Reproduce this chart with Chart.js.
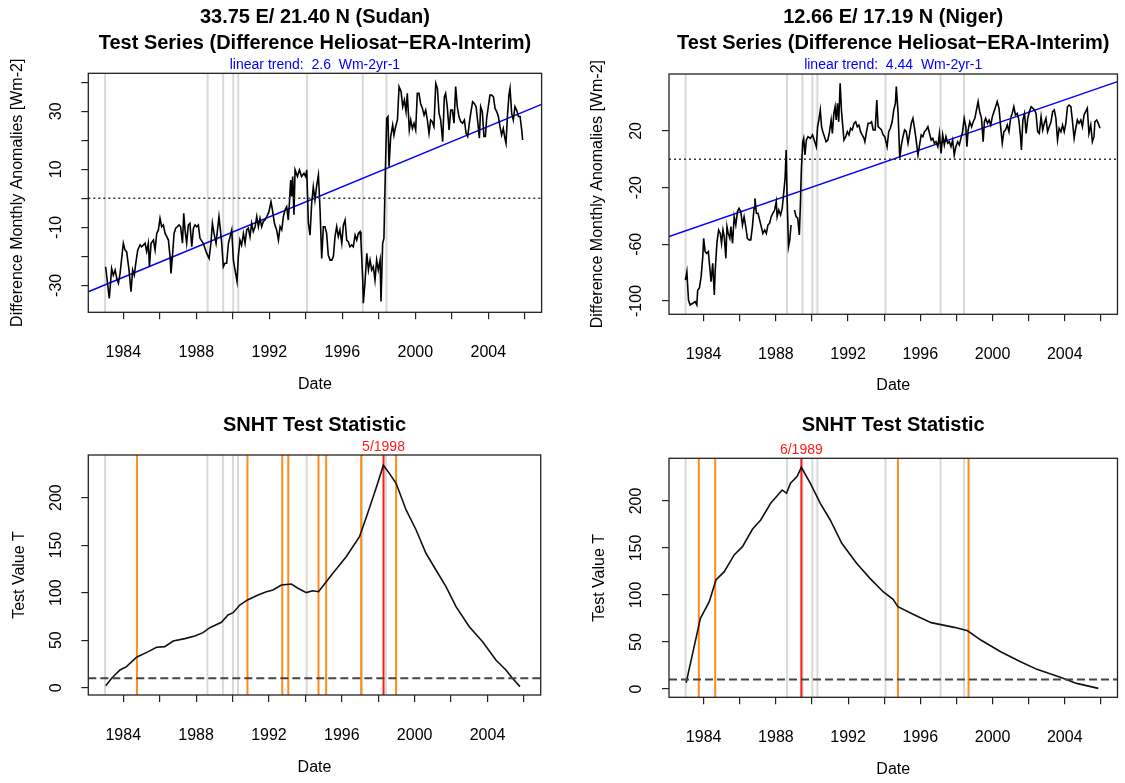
<!DOCTYPE html>
<html>
<head>
<meta charset="utf-8">
<script src="https://cdn.jsdelivr.net/npm/chart.js@4.4.0/dist/chart.umd.min.js"></script>
<style>
  body { margin: 0; background: #fff; }
  #wrap { position: relative; width: 1125px; height: 783px; }
  canvas { position: absolute; }
</style>
</head>
<body>
<div id="wrap">
  <canvas id="tl" width="562" height="400" style="left:0;top:0"></canvas>
  <canvas id="tr" width="563" height="400" style="left:562px;top:0"></canvas>
  <canvas id="bl" width="562" height="383" style="left:0;top:400px"></canvas>
  <canvas id="br" width="563" height="383" style="left:562px;top:400px"></canvas>
</div>
<script>
// ---- axes ----
const xMin = 1982.08, xMax = 2006.92;
const xTicks = [1984, 1986, 1988, 1990, 1992, 1994, 1996, 1998, 2000, 2002, 2004, 2006];
const xTickLabels = [1984, 1988, 1992, 1996, 2000, 2004];

const sudanYRange = [-39.3, 43.1];
const sudanYTicks = [-30, -20, -10, 0, 10, 20, 30, 40];
const sudanYLabels = [-30, -10, 10, 30];
const nigerYRange = [-109.4, 60.2];
const nigerYTicks = [-100, -80, -60, -40, -20, 0, 20, 40];
const nigerYLabels = [-100, -60, -20, 20];
const snhtSudanYRange = [-7.7, 244.8];
const snhtNigerYRange = [-8.8, 245.4];
const snhtYTicks = [0, 50, 100, 150, 200];
const snhtYLabels = [0, 50, 100, 150, 200];

// ---- break markers ----
const grayYears = [1983.0, 1988.62, 1989.47, 1990.02, 1990.3, 1994.07, 1997.12, 1998.42];
const orangeSudan = [1984.75, 1990.82, 1992.73, 1993.06, 1994.72, 1995.14, 1997.06, 1998.98];
const orangeNiger = [1983.73, 1984.64, 1994.76, 1998.67];
const breakSudan = 1998.29, breakSudanLabel = '5/1998';
const breakNiger = 1989.41, breakNigerLabel = '6/1989';
const snhtLimit = 10;

// trend line values at xMin / xMax
const trendSudan = [-32.2, 32.4];
const trendNiger = [-54.6, 54.8];

// ---- test series (Sudan) ----
const sudanYears = [1983.03,1983.23,1983.36,1983.45,1983.55,1983.64,1983.73,1983.82,1984.00,1984.09,1984.18,1984.31,1984.42,1984.51,1984.60,1984.68,1984.79,1984.92,1985.01,1985.10,1985.19,1985.28,1985.37,1985.43,1985.52,1985.65,1985.74,1985.83,1985.92,1986.01,1986.10,1986.19,1986.29,1986.38,1986.47,1986.56,1986.61,1986.69,1986.78,1986.87,1986.96,1987.05,1987.14,1987.24,1987.31,1987.38,1987.47,1987.56,1987.65,1987.75,1987.84,1987.93,1988.02,1988.11,1988.20,1988.38,1988.57,1988.70,1988.80,1988.88,1988.97,1989.08,1989.17,1989.24,1989.32,1989.39,1989.48,1989.57,1989.66,1989.76,1989.85,1989.94,1990.03,1990.12,1990.23,1990.30,1990.39,1990.48,1990.58,1990.67,1990.76,1990.85,1990.94,1991.03,1991.12,1991.22,1991.31,1991.40,1991.49,1991.58,1991.67,1991.76,1991.86,1991.98,1992.09,1992.17,1992.28,1992.40,1992.50,1992.59,1992.68,1992.77,1992.86,1992.95,1993.04,1993.10,1993.17,1993.22,1993.28,1993.35,1993.41,1993.54,1993.65,1993.77,1993.90,1993.99,1994.05,1994.14,1994.23,1994.32,1994.41,1994.50,1994.60,1994.69,1994.78,1994.87,1994.96,1995.05,1995.14,1995.23,1995.33,1995.42,1995.51,1995.60,1995.69,1995.78,1995.87,1995.97,1996.06,1996.15,1996.24,1996.33,1996.42,1996.51,1996.60,1996.70,1996.79,1996.88,1996.97,1997.02,1997.12,1997.15,1997.24,1997.34,1997.43,1997.52,1997.61,1997.70,1997.79,1997.88,1997.97,1998.07,1998.12,1998.21,1998.28,1998.36,1998.43,1998.50,1998.56,1998.65,1998.76,1998.83,1998.92,1999.02,1999.11,1999.22,1999.31,1999.40,1999.49,1999.56,1999.67,1999.75,1999.84,1999.93,2000.02,2000.11,2000.20,2000.29,2000.39,2000.48,2000.57,2000.66,2000.75,2000.84,2000.93,2001.02,2001.12,2001.21,2001.30,2001.39,2001.50,2001.59,2001.66,2001.75,2001.85,2001.94,2002.03,2002.12,2002.21,2002.30,2002.39,2002.49,2002.59,2002.69,2002.78,2002.87,2002.96,2003.05,2003.14,2003.23,2003.33,2003.42,2003.51,2003.58,2003.67,2003.76,2003.84,2003.91,2004.00,2004.09,2004.18,2004.28,2004.37,2004.46,2004.55,2004.64,2004.73,2004.82,2004.91,2004.97,2005.04,2005.13,2005.19,2005.28,2005.37,2005.46,2005.55,2005.65,2005.74,2005.83,2005.88];
const sudanValues = [-23.6,-34.5,-24.2,-26.5,-24.7,-27.6,-29.3,-25.9,-15.5,-17.8,-18.4,-24.7,-32.2,-24.7,-26.5,-22.4,-17.8,-16.1,-16.7,-16.1,-15.5,-18.4,-15.5,-23.6,-15.5,-14.4,-17.8,-12.1,-10.9,-6.9,-9.8,-9.2,-12.1,-13.2,-14.4,-20.1,-25.9,-20.1,-12.1,-10.3,-9.8,-9.2,-9.8,-15.5,-5.2,-10.9,-15.5,-9.2,-8.6,-16.7,-10.3,-9.2,-9.8,-9.2,-13.8,-15.5,-19.0,-20.7,-15.5,-8.6,-12.1,-15.5,-10.3,-6.3,-10.9,-15.5,-23.6,-22.4,-22.4,-15.5,-13.2,-10.9,-21.3,-24.7,-28.7,-20.1,-14.4,-16.1,-12.1,-15.5,-10.9,-10.3,-13.2,-8.6,-11.5,-9.8,-6.3,-9.8,-6.9,-9.8,-8.0,-7.5,-6.3,-4.6,-1.2,-4.0,-8.6,-10.9,-14.4,-9.8,-10.9,-6.3,-4.0,-2.9,-7.5,-1.7,6.3,0.6,7.5,-5.7,9.8,7.5,9.8,7.5,8.6,7.5,9.8,-8.6,-12.7,-1.7,4.0,-0.6,4.6,8.0,-4.0,-20.7,-9.8,-9.8,-12.1,-19.6,-21.3,-21.3,-20.1,-13.2,-9.8,-13.2,-10.9,-15.5,-9.2,-7.5,-14.4,-15.0,-16.7,-16.1,-16.7,-12.7,-14.4,-12.1,-11.5,-14.4,-28.2,-36.2,-29.3,-19.0,-24.7,-21.3,-24.7,-23.6,-28.2,-21.3,-24.7,-21.3,-35.6,-15.5,-13.8,9.8,27.6,28.2,10.9,21.3,25.3,21.8,24.7,27.0,38.5,36.8,31.6,33.9,29.9,36.2,23.6,27.0,24.1,25.9,23.6,36.2,36.2,32.7,31.0,28.7,30.4,27.0,22.4,27.0,26.4,24.7,39.6,37.9,29.3,27.0,19.5,35.0,36.2,31.6,23.6,30.4,30.4,25.9,38.5,31.6,28.2,26.4,25.9,27.0,22.4,21.3,25.9,29.9,33.3,32.7,31.6,26.4,20.7,31.6,29.9,21.3,21.3,27.6,31.6,35.6,35.6,35.0,31.0,29.9,28.2,24.7,21.8,24.1,20.7,19.0,27.6,35.6,37.9,29.3,27.0,31.6,30.4,28.2,28.2,23.6,20.1];

// ---- test series (Niger), null = missing month ----
const nigerYears = [1982.99,1983.07,1983.16,1983.25,1983.40,1983.53,1983.62,1983.67,1983.76,1983.86,1983.95,1984.00,1984.08,1984.17,1984.26,1984.35,1984.41,1984.50,1984.59,1984.64,1984.74,1984.83,1984.92,1984.99,1985.07,1985.14,1985.23,1985.29,1985.36,1985.45,1985.51,1985.60,1985.69,1985.78,1985.87,1985.96,1986.06,1986.15,1986.24,1986.33,1986.42,1986.51,1986.61,1986.70,1986.79,1986.84,1986.92,1987.01,1987.10,1987.19,1987.28,1987.38,1987.47,1987.56,1987.65,1987.74,1987.83,1987.93,1988.02,1988.07,1988.16,1988.26,1988.35,1988.44,1988.51,1988.57,1988.62,1988.70,1988.77,1988.84,1988.93,1989.03,1989.12,1989.21,1989.30,1989.36,1989.41,1989.49,1989.54,1989.61,1989.69,1989.78,1989.91,1990.03,1990.12,1990.24,1990.31,1990.38,1990.46,1990.53,1990.60,1990.69,1990.78,1990.88,1990.97,1991.06,1991.13,1991.21,1991.28,1991.34,1991.41,1991.48,1991.56,1991.63,1991.70,1991.77,1991.87,1991.96,1992.05,1992.14,1992.23,1992.33,1992.42,1992.51,1992.60,1992.69,1992.78,1992.88,1992.93,1993.02,1993.11,1993.21,1993.30,1993.39,1993.50,1993.59,1993.66,1993.76,1993.85,1993.94,1994.03,1994.16,1994.25,1994.34,1994.44,1994.53,1994.62,1994.67,1994.77,1994.86,1994.95,1995.04,1995.13,1995.22,1995.32,1995.41,1995.50,1995.59,1995.68,1995.77,1995.87,1995.96,1996.05,1996.14,1996.23,1996.32,1996.42,1996.51,1996.60,1996.69,1996.78,1996.87,1996.97,1997.06,1997.15,1997.24,1997.33,1997.42,1997.52,1997.61,1997.70,1997.79,1997.88,1997.97,1998.07,1998.16,1998.25,1998.34,1998.43,1998.52,1998.58,1998.65,1998.74,1998.84,1998.93,1999.02,1999.11,1999.20,1999.29,1999.39,1999.48,1999.55,1999.62,1999.72,1999.81,1999.90,1999.99,2000.08,2000.17,2000.26,2000.36,2000.45,2000.54,2000.63,2000.72,2000.82,2000.91,2001.00,2001.09,2001.18,2001.27,2001.37,2001.46,2001.55,2001.60,2001.68,2001.77,2001.86,2001.95,2002.04,2002.14,2002.23,2002.32,2002.41,2002.50,2002.59,2002.69,2002.78,2002.87,2002.96,2003.05,2003.14,2003.24,2003.33,2003.42,2003.51,2003.60,2003.69,2003.79,2003.88,2003.97,2004.06,2004.15,2004.24,2004.34,2004.43,2004.52,2004.61,2004.70,2004.79,2004.89,2004.98,2005.07,2005.16,2005.25,2005.34,2005.44,2005.53,2005.62,2005.67,2005.77,2005.86,2005.95];
const nigerValues = [-85.2,-79.3,-99.3,-102.8,-101.6,-100.5,-102.8,-92.3,-91.1,-82.9,-68.7,-55.8,-65.2,-66.4,-65.2,-78.1,-86.4,-73.4,-95.8,-78.1,-58.1,-49.9,-52.3,-59.3,-49.9,-54.6,-69.9,-47.5,-52.3,-55.8,-47.5,-59.3,-40.5,-46.4,-37.0,-34.6,-37.0,-46.4,-40.5,-47.5,-55.8,-56.9,-56.9,-47.5,-34.6,-27.6,-38.1,-38.1,-42.8,-47.5,-52.3,-49.9,-52.3,-46.4,-45.2,-40.5,-38.1,-35.8,-29.9,-40.5,-35.8,-39.3,-34.6,-22.9,-13.4,6.6,-26.4,-61.7,-56.9,-46.4,null,-35.8,-40.5,-41.6,-53.4,-31.1,-7.6,12.4,14.8,3.0,13.6,16.0,14.8,17.2,13.6,8.9,23.0,27.7,34.8,23.0,19.5,16.0,12.4,13.6,19.5,27.7,18.3,32.4,37.1,27.7,39.5,26.5,53.6,34.8,24.2,13.6,16.0,19.5,17.2,21.9,20.7,25.4,26.5,23.0,24.2,19.5,17.2,14.8,12.4,19.5,25.4,25.4,26.5,20.7,20.7,41.9,23.0,21.9,20.7,17.2,16.0,8.9,19.5,21.9,26.5,34.8,39.5,51.3,32.4,0.7,10.1,16.0,20.7,19.5,11.3,18.3,25.4,28.9,21.9,13.6,3.0,10.1,17.2,16.0,19.5,20.7,23.0,18.3,13.6,14.8,11.3,12.4,8.9,18.3,4.2,17.2,10.1,16.0,11.3,12.4,8.9,13.6,3.0,8.9,12.4,10.1,14.8,19.5,28.9,23.0,8.9,20.7,26.5,23.0,26.5,28.9,34.8,40.7,33.6,28.9,12.4,26.5,28.9,25.4,27.7,24.2,30.1,33.6,37.1,40.7,36.0,23.0,11.3,19.5,20.7,24.2,19.5,28.9,32.4,37.1,31.3,32.4,27.7,16.0,6.6,27.7,32.4,18.3,28.9,33.6,37.1,36.0,34.8,32.4,19.5,18.3,30.1,20.7,25.4,28.9,19.5,23.0,26.5,33.6,34.8,28.9,13.6,21.9,19.5,24.2,19.5,25.4,37.1,38.3,37.1,26.5,14.8,21.9,27.7,25.4,27.7,23.0,31.3,33.6,36.0,18.3,24.2,12.4,16.0,26.5,27.7,25.4,21.9];

// ---- SNHT test statistic ----
const snhtSudanYears = [1983.04,1983.36,1983.82,1984.18,1984.73,1985.37,1985.83,1986.28,1986.74,1987.38,1987.93,1988.38,1988.75,1989.39,1989.75,1990.03,1990.40,1990.82,1991.40,1991.86,1992.22,1992.68,1993.23,1993.59,1994.05,1994.40,1994.72,1995.05,1995.51,1996.24,1996.97,1997.42,1997.88,1998.28,1998.61,1998.98,1999.53,2000.08,2000.62,2001.17,2001.72,2002.27,2003.00,2003.73,2004.46,2005.01,2005.37,2005.78];
const snhtSudanValues = [2.1,9.9,18.6,22.1,32.0,37.9,42.5,43.2,49.1,51.6,54.4,57.9,63.1,68.8,76.5,78.9,87.0,92.3,97.5,101.0,102.8,108.0,109.1,104.6,100.0,102.0,101.0,109.1,120.3,137.8,158.9,183.5,209.8,234.0,225.5,215.0,187.0,165.9,141.4,123.8,106.3,85.2,64.2,48.4,29.1,18.6,9.9,1.1];
const snhtNigerYears = [1983.03,1983.39,1983.82,1984.31,1984.68,1985.14,1985.69,1986.15,1986.70,1987.16,1987.71,1988.35,1988.59,1988.81,1989.17,1989.41,1989.91,1990.46,1991.01,1991.65,1992.47,1993.21,1993.94,1994.49,1994.76,1995.68,1996.60,1997.88,1998.62,1999.35,2000.45,2001.55,2002.46,2003.75,2004.66,2005.86];
const snhtNigerValues = [6.7,38.0,75.2,92.9,116.0,124.8,142.6,151.4,169.9,179.8,197.5,211.7,208.2,218.8,225.9,235.8,218.8,197.5,179.8,155.0,133.7,117.7,103.5,95.4,87.6,78.7,70.6,65.6,62.0,52.1,39.7,29.1,20.9,12.4,6.0,0.7];

// ---- helpers ----
const FONT = '"Liberation Sans", Arial, Helvetica, sans-serif';

function pairs(xs, ys) {
  return xs.map((x, i) => ({ x: x, y: ys[i] }));
}

function vlines(years, range) {
  const pts = [];
  years.forEach(g => {
    pts.push({ x: g, y: range[0] }, { x: g, y: range[1] }, { x: g, y: null });
  });
  return pts;
}

function hline(v) {
  return [{ x: xMin, y: v }, { x: xMax, y: v }];
}

function lineSet(data, color, width, order, dash) {
  return {
    data: data, borderColor: color, borderWidth: width, order: order,
    borderDash: dash || [], pointRadius: 0, tension: 0, spanGaps: false, fill: false
  };
}

const tickGrid = { drawOnChartArea: false, drawTicks: true, tickLength: 7, color: '#222', lineWidth: 1.2 };

function xScale() {
  return {
    type: 'linear', min: xMin, max: xMax, bounds: 'data',
    afterBuildTicks: s => { s.ticks = xTicks.map(v => ({ value: v })); },
    afterFit: s => { s.height = 60; },
    grid: tickGrid,
    border: { display: false },
    ticks: {
      autoSkip: false, minRotation: 0, maxRotation: 0, padding: 24, color: '#000',
      font: { family: FONT, size: 16 },
      callback: v => xTickLabels.includes(v) ? String(v) : ''
    }
  };
}

function yScale(range, ticks, labels, pad) {
  return {
    type: 'linear', min: range[0], max: range[1], bounds: 'data',
    afterBuildTicks: s => { s.ticks = ticks.map(v => ({ value: v })); },
    afterFit: s => { s.width = 50; },
    grid: tickGrid,
    border: { display: false },
    ticks: {
      minRotation: 90, maxRotation: 90, crossAlign: 'center', padding: pad, color: '#000',
      font: { family: FONT, size: 16 },
      callback: v => labels.includes(v) ? String(v) : ''
    }
  };
}

// box, titles and axis titles, R style
const rFrame = {
  id: 'rFrame',
  afterDraw(chart, args, opts) {
    const ctx = chart.ctx;
    const a = chart.chartArea;
    const cx = (a.left + a.right) / 2, cy = (a.top + a.bottom) / 2;
    ctx.save();
    ctx.strokeStyle = '#222';
    ctx.lineWidth = 1.3;
    ctx.strokeRect(a.left, a.top, a.right - a.left, a.bottom - a.top);
    ctx.textAlign = 'center';
    ctx.textBaseline = 'middle';
    (opts.titles || []).forEach(t => {
      ctx.font = t.font;
      ctx.fillStyle = t.color || '#000';
      ctx.fillText(t.text, cx, a.top + t.dy);
    });
    ctx.fillStyle = '#000';
    ctx.font = '16px ' + FONT;
    ctx.fillText(opts.xTitle, cx, a.bottom + opts.xTitleDy);
    ctx.save();
    ctx.translate(a.left + opts.yTitleDx, cy);
    ctx.rotate(-Math.PI / 2);
    ctx.fillText(opts.yTitle, 0, 0);
    ctx.restore();
    if (opts.marker) {
      const mx = chart.scales.x.getPixelForValue(opts.marker.value);
      ctx.fillStyle = '#ff1a1a';
      ctx.font = '14px ' + FONT;
      ctx.fillText(opts.marker.text, mx, a.top + opts.marker.dy);
    }
    ctx.restore();
  }
};

function makeChart(id, datasets, yOpts, padding, frame) {
  return new Chart(document.getElementById(id), {
    type: 'line',
    data: { datasets: datasets },
    options: {
      responsive: false, animation: false, devicePixelRatio: 1, events: [],
      layout: { padding: padding },
      scales: { x: xScale(), y: yOpts },
      plugins: { legend: { display: false }, tooltip: { enabled: false }, rFrame: frame }
    },
    plugins: [rFrame]
  });
}

const GRAY = '#d9d9d9', ORANGE = '#ff8c1a', RED = '#ff1a1a';
const TITLE_FONT = 'bold 20px ' + FONT;
const SUB_FONT = '14px ' + FONT;

// top left: Sudan test series
makeChart('tl', [
  lineSet(pairs(sudanYears, sudanValues), '#000', 1.6, 1),
  lineSet(pairs([xMin, xMax], trendSudan), '#0000ff', 1.5, 2),
  lineSet(hline(0), '#333', 1.5, 0, [2, 3]),
  lineSet(vlines(grayYears, sudanYRange), GRAY, 2, 5)
], yScale(sudanYRange, sudanYTicks, sudanYLabels, 12.7),
  { left: 38.3, right: 20.4, top: 73.3, bottom: 27.7 },
  {
    titles: [
      { text: '33.75 E/ 21.40 N (Sudan)', dy: -56.3, font: TITLE_FONT },
      { text: 'Test Series (Difference Heliosat\u2212ERA-Interim)', dy: -30.3, font: TITLE_FONT },
      { text: 'linear trend:  2.6  Wm-2yr-1', dy: -8.3, font: SUB_FONT, color: '#0000ff' }
    ],
    xTitle: 'Date', xTitleDy: 72.7,
    yTitle: 'Difference Monthly Anomalies [Wm-2]', yTitleDx: -70.3
  });

// top right: Niger test series
makeChart('tr', [
  lineSet(pairs(nigerYears, nigerValues), '#000', 1.6, 1),
  lineSet(pairs([xMin, xMax], trendNiger), '#0000ff', 1.5, 2),
  lineSet(hline(0), '#333', 1.5, 0, [2, 3]),
  lineSet(vlines(grayYears, nigerYRange), GRAY, 2, 5)
], yScale(nigerYRange, nigerYTicks, nigerYLabels, 9),
  { left: 57, right: 4, top: 74, bottom: 25.7 },
  {
    titles: [
      { text: '12.66 E/ 17.19 N (Niger)', dy: -57, font: TITLE_FONT },
      { text: 'Test Series (Difference Heliosat\u2212ERA-Interim)', dy: -31, font: TITLE_FONT },
      { text: 'linear trend:  4.44  Wm-2yr-1', dy: -9, font: SUB_FONT, color: '#0000ff' }
    ],
    xTitle: 'Date', xTitleDy: 71,
    yTitle: 'Difference Monthly Anomalies [Wm-2]', yTitleDx: -71
  });

// bottom left: SNHT Sudan
makeChart('bl', [
  lineSet(hline(snhtLimit), '#444', 2, 0, [8, 4]),
  lineSet(pairs(snhtSudanYears, snhtSudanValues), '#111', 1.6, 1),
  lineSet(vlines([breakSudan], snhtSudanYRange), RED, 2, 2),
  lineSet(vlines(orangeSudan, snhtSudanYRange), ORANGE, 2, 3),
  lineSet(vlines(grayYears, snhtSudanYRange), GRAY, 2, 5)
], yScale(snhtSudanYRange, snhtYTicks, snhtYLabels, 11),
  { left: 38.3, right: 21.3, top: 55, bottom: 28 },
  {
    titles: [{ text: 'SNHT Test Statistic', dy: -30, font: TITLE_FONT }],
    marker: { value: breakSudan, text: breakSudanLabel, dy: -8 },
    xTitle: 'Date', xTitleDy: 73,
    yTitle: 'Test Value T', yTitleDx: -68.3
  });

// bottom right: SNHT Niger
makeChart('br', [
  lineSet(hline(snhtLimit), '#444', 2, 0, [8, 4]),
  lineSet(pairs(snhtNigerYears, snhtNigerValues), '#111', 1.6, 1),
  lineSet(vlines([breakNiger], snhtNigerYRange), RED, 2, 2),
  lineSet(vlines(orangeNiger, snhtNigerYRange), ORANGE, 2, 3),
  lineSet(vlines(grayYears, snhtNigerYRange), GRAY, 2, 5)
], yScale(snhtNigerYRange, snhtYTicks, snhtYLabels, 11.7),
  { left: 57, right: 3.3, top: 58.3, bottom: 25.7 },
  {
    titles: [{ text: 'SNHT Test Statistic', dy: -33.3, font: TITLE_FONT }],
    marker: { value: breakNiger, text: breakNigerLabel, dy: -8.3 },
    xTitle: 'Date', xTitleDy: 72.7,
    yTitle: 'Test Value T', yTitleDx: -69
  });
</script>
</body>
</html>
